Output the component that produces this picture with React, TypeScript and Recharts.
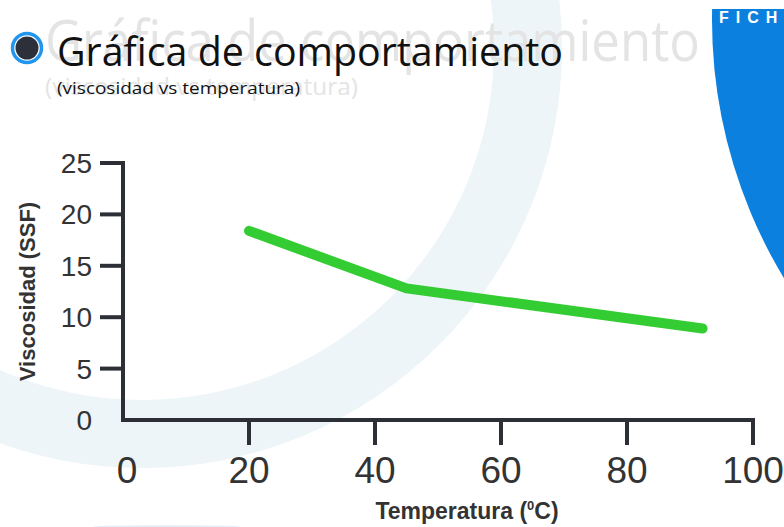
import { Line, LineChart, XAxis, YAxis } from "recharts";

// temperatura (°C) vs viscosidad (SSF)
const temperatura = [20, 45, 92];
const viscosidad = [18.4, 12.8, 8.9];
const xTicks = [0, 20, 40, 60, 80, 100];
const yTicks = [0, 5, 10, 15, 20, 25];

const titulo = "Gráfica de comportamiento";
const subtitulo = "(viscosidad vs temperatura)";
const ficha = "FICHA TÉCNICA";

const data = temperatura.map((t, i) => ({ t, v: viscosidad[i] }));

const axisColor = "#2c2f36";
const textColor = "#333333";
const tickFont = "'Liberation Sans', Arial, Helvetica, sans-serif";

const XTick = (props: any) => {
  const { x, y, payload } = props;
  return (
    <g>
      {payload.value !== 0 && (
        <line x1={x} x2={x} y1={y} y2={y + 25} stroke={axisColor} strokeWidth={4} />
      )}
      <text
        x={x + (payload.value === 0 ? 4 : 0)}
        y={y + 63}
        textAnchor="middle"
        fill={textColor}
        fontSize={37}
        fontFamily={tickFont}
      >
        {payload.value}
      </text>
    </g>
  );
};

const YTick = (props: any) => {
  const { x, y, payload } = props;
  return (
    <g>
      {payload.value !== 0 && (
        <line x1={x - 23} x2={x} y1={y} y2={y} stroke={axisColor} strokeWidth={4} />
      )}
      <text
        x={x - 31}
        y={y + 10}
        textAnchor="end"
        fill={textColor}
        fontSize={28}
        fontFamily={tickFont}
      >
        {payload.value}
      </text>
    </g>
  );
};

const YTitle = (props: any) => {
  const vb = props.viewBox || { x: 0, y: 163, width: 123, height: 257 };
  const cx = vb.x + 27;
  const cy = vb.y + vb.height / 2;
  return (
    <text
      x={cx}
      y={cy}
      transform={`rotate(-90 ${cx} ${cy})`}
      textAnchor="middle"
      dominantBaseline="central"
      fill={textColor}
      fontSize={22}
      fontWeight="bold"
      fontFamily={tickFont}
    >
      Viscosidad (SSF)
    </text>
  );
};

const XTitle = (props: any) => {
  const vb = props.viewBox || { x: 123, y: 420, width: 630, height: 107 };
  return (
    <text
      x={vb.x + vb.width / 2 + 29}
      y={vb.y + 99}
      textAnchor="middle"
      fill={textColor}
      fontSize={23}
      fontWeight="bold"
      fontFamily={tickFont}
    >
      Temperatura (
      <tspan dy={-9} fontSize={13}>0</tspan>
      <tspan dy={9}>C)</tspan>
    </text>
  );
};

const Backdrop = () => (
  <svg width={784} height={527} style={{ position: "absolute", left: 0, top: 0 }}>
    <defs>
      <clipPath id="blueClip">
        <rect x={0} y={9} width={784} height={518} />
      </clipPath>
    </defs>
    {/* light ring behind everything */}
    <path
      fillRule="evenodd"
      fill="#edf5f8"
      d="M 562 48 A 420 420 0 1 0 -278 48 A 420 420 0 1 0 562 48 Z M 494 48 A 352 352 0 1 1 -210 48 A 352 352 0 1 1 494 48 Z"
    />
    <ellipse cx={167} cy={527} rx={75} ry={2} fill="#e6eff7" />

    {/* blue corner */}
    <circle cx={1211} cy={20} r={499} fill="#0b80df" clipPath="url(#blueClip)" />
    <text x={719} y={23} fill="#ffffff" fontSize={16} fontWeight="bold" letterSpacing={7} fontFamily={tickFont}>
      {ficha}
    </text>

    {/* ghost titles */}
    <text x={45} y={61} fill="#e4e4e4" fontSize={56} fontFamily="'Open Sans', sans-serif" textLength={655} lengthAdjust="spacingAndGlyphs">
      {titulo}
    </text>
    <text x={45} y={95} fill="#e4e4e4" fontSize={24} fontFamily="'Open Sans', sans-serif" textLength={313} lengthAdjust="spacingAndGlyphs">
      {subtitulo}
    </text>

    {/* bullet */}
    <circle cx={27} cy={48} r={14.5} fill="#ffffff" stroke="#2196ee" strokeWidth={3.5} />
    <circle cx={27} cy={48} r={11.5} fill="#2c303a" />

    <text x={57} y={66} fill="#111111" fontSize={40} fontFamily="'Open Sans', sans-serif" textLength={506} lengthAdjust="spacingAndGlyphs">
      {titulo}
    </text>
    <text x={57} y={94} fill="#111111" fontSize={17} fontFamily="'Open Sans', sans-serif" textLength={243} lengthAdjust="spacingAndGlyphs">
      {subtitulo}
    </text>
  </svg>
);

const App = () => {
  return (
    <div style={{ position: "absolute", left: 0, top: 0, width: 784, height: 527, background: "#ffffff" }}>
      <Backdrop />
      <div style={{ position: "absolute", left: 0, top: 0 }}>
        <LineChart width={784} height={527} data={data} margin={{ top: 163, right: 31, bottom: 0, left: 0 }}>
          <XAxis
            dataKey="t"
            type="number"
            domain={[0, 100]}
            ticks={xTicks}
            interval={0}
            height={107}
            tickSize={0}
            tickMargin={0}
            tickLine={false}
            tick={<XTick />}
            axisLine={{ stroke: axisColor, strokeWidth: 4, strokeLinecap: "square" }}
            label={(p: any) => <XTitle {...p} />}
          />
          <YAxis
            type="number"
            domain={[0, 25]}
            ticks={yTicks}
            interval={0}
            width={123}
            tickSize={0}
            tickMargin={0}
            tickLine={false}
            tick={<YTick />}
            axisLine={{ stroke: axisColor, strokeWidth: 4, strokeLinecap: "square" }}
            label={(p: any) => <YTitle {...p} />}
          />
          <Line
            type="linear"
            dataKey="v"
            stroke="#33cc33"
            strokeWidth={10}
            strokeLinecap="round"
            strokeLinejoin="round"
            dot={false}
            activeDot={false}
            isAnimationActive={false}
          />
        </LineChart>
      </div>
    </div>
  );
};

export default App;
